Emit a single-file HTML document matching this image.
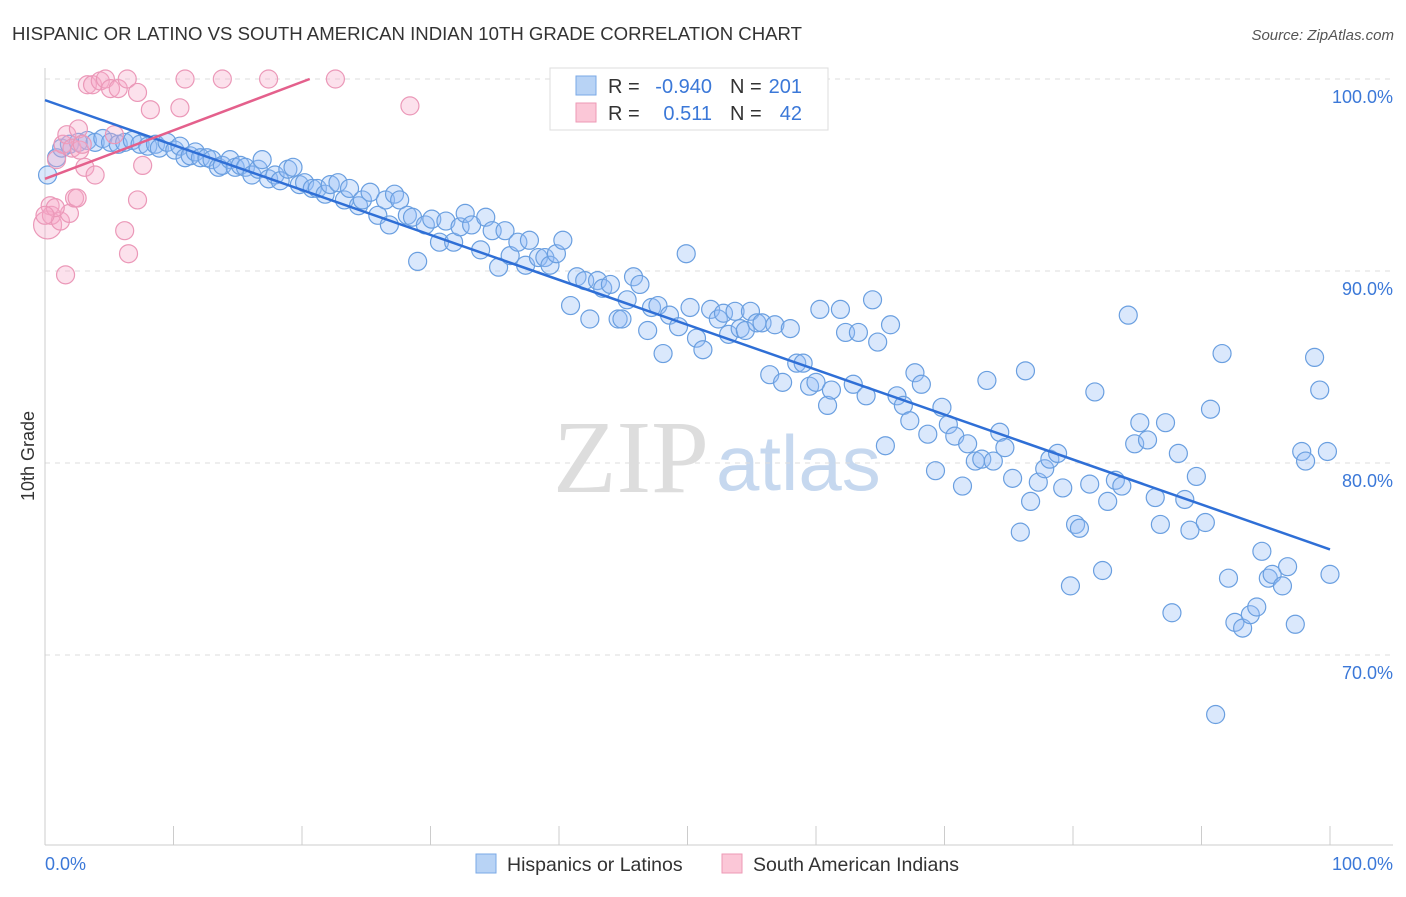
<!DOCTYPE html>
<html><head><meta charset="utf-8"><style>
body{margin:0;background:#fff;font-family:"Liberation Sans",sans-serif;}
svg text{font-family:"Liberation Sans",sans-serif;}
</style></head><body>
<svg id="chart" width="1406" height="892" viewBox="0 0 1406 892">
<text x="12" y="40" font-size="18.6" fill="#333">HISPANIC OR LATINO VS SOUTH AMERICAN INDIAN 10TH GRADE CORRELATION CHART</text>
<text x="1394" y="40" font-size="15" fill="#555" font-style="italic" text-anchor="end">Source: ZipAtlas.com</text>
<text x="0" y="0" font-size="18" fill="#333" transform="translate(34,456) rotate(-90)" text-anchor="middle">10th Grade</text>
<g>
<text x="553" y="492" font-size="104" fill="#ddd" style="font-family:'Liberation Serif',serif">ZIP</text>
<text x="716" y="490" font-size="78" fill="#c6d8ef">atlas</text>
</g>
<g id="grid"></g>
<g id="axes"></g>
<g id="pts"></g>
<g id="trends"></g>
<g>
<rect x="550" y="68" width="278" height="62" fill="#fff" stroke="#ddd"/>
<rect x="576" y="76" width="20" height="19" fill="#b8d3f5" stroke="#7aa8e6"/>
<rect x="576" y="103" width="20" height="19" fill="#fbc7d7" stroke="#ee9ab6"/>
<text x="608" y="93" font-size="20" fill="#333">R = </text><text x="712" y="93" font-size="20" fill="#3b78d8" text-anchor="end">-0.940</text>
<text x="730" y="93" font-size="20" fill="#333">N = </text><text x="802" y="93" font-size="20" fill="#3b78d8" text-anchor="end">201</text>
<text x="608" y="120" font-size="20" fill="#333">R = </text><text x="712" y="120" font-size="20" fill="#3b78d8" text-anchor="end">0.511</text>
<text x="730" y="120" font-size="20" fill="#333">N = </text><text x="802" y="120" font-size="20" fill="#3b78d8" text-anchor="end">42</text>
</g>
<g>
<rect x="476" y="854" width="20" height="19" fill="#b8d3f5" stroke="#7aa8e6"/>
<text x="507" y="871" font-size="19.5" fill="#333">Hispanics or Latinos</text>
<rect x="722" y="854" width="20" height="19" fill="#fbc7d7" stroke="#ee9ab6"/>
<text x="753" y="871" font-size="19.5" fill="#333">South American Indians</text>
</g>
</svg>
<script>
const blueX=[0.2,0.9,1.3,1.9,2.6,3.3,3.9,4.5,5.1,5.7,6.2,6.8,7.4,8.0,8.6,8.9,9.5,10.1,10.5,10.9,11.3,11.7,12.1,12.6,13.0,13.5,13.8,14.4,14.8,15.2,15.6,16.1,16.6,16.9,17.4,17.9,18.3,18.9,19.3,19.8,20.2,20.8,21.2,21.8,22.2,22.8,23.3,23.7,24.4,24.7,25.3,25.9,26.5,26.8,27.2,27.6,28.2,28.6,29.0,29.6,30.1,30.7,31.2,31.8,32.3,32.7,33.2,33.9,34.3,34.8,35.3,35.8,36.2,36.8,37.4,37.7,38.4,38.9,39.3,39.8,40.3,40.9,41.4,42.0,42.4,43.0,43.4,44.0,44.6,44.9,45.3,45.8,46.3,46.9,47.2,47.7,48.1,48.6,49.3,49.9,50.2,50.7,51.2,51.8,52.4,52.8,53.2,53.7,54.1,54.5,54.9,55.4,55.8,56.4,56.8,57.4,58.0,58.5,59.0,59.5,60.0,60.3,60.9,61.2,61.9,62.3,62.9,63.3,63.9,64.4,64.8,65.4,65.8,66.3,66.8,67.3,67.7,68.2,68.7,69.3,69.8,70.3,70.8,71.4,71.8,72.4,72.9,73.3,73.8,74.3,74.7,75.3,75.9,76.3,76.7,77.3,77.8,78.2,78.8,79.2,79.8,80.2,80.5,81.3,81.7,82.3,82.7,83.3,83.8,84.3,84.8,85.2,85.8,86.4,86.8,87.2,87.7,88.2,88.7,89.1,89.6,90.3,90.7,91.1,91.6,92.1,92.6,93.2,93.8,94.3,94.7,95.2,95.5,96.3,96.7,97.3,97.8,98.1,98.8,99.2,99.8,100.0];
const blueY=[95.0,95.9,96.4,96.6,96.7,96.8,96.7,96.9,96.7,96.6,96.7,96.8,96.6,96.5,96.6,96.4,96.7,96.3,96.5,95.9,96.0,96.2,95.9,95.9,95.8,95.4,95.5,95.8,95.4,95.5,95.4,95.0,95.3,95.8,94.8,95.0,94.7,95.3,95.4,94.5,94.6,94.3,94.3,94.0,94.5,94.6,93.7,94.3,93.4,93.7,94.1,92.9,93.7,92.4,94.0,93.7,92.9,92.8,90.5,92.4,92.7,91.5,92.6,91.5,92.3,93.0,92.4,91.1,92.8,92.1,90.2,92.1,90.8,91.5,90.3,91.6,90.7,90.7,90.3,90.9,91.6,88.2,89.7,89.5,87.5,89.5,89.1,89.3,87.5,87.5,88.5,89.7,89.3,86.9,88.1,88.2,85.7,87.7,87.1,90.9,88.1,86.5,85.9,88.0,87.5,87.8,86.7,87.9,87.0,86.9,87.9,87.3,87.3,84.6,87.2,84.2,87.0,85.2,85.2,84.0,84.2,88.0,83.0,83.8,88.0,86.8,84.1,86.8,83.5,88.5,86.3,80.9,87.2,83.5,83.0,82.2,84.7,84.1,81.5,79.6,82.9,82.0,81.4,78.8,81.0,80.1,80.2,84.3,80.1,81.6,80.8,79.2,76.4,84.8,78.0,79.0,79.7,80.2,80.5,78.7,73.6,76.8,76.6,78.9,83.7,74.4,78.0,79.1,78.8,87.7,81.0,82.1,81.2,78.2,76.8,82.1,72.2,80.5,78.1,76.5,79.3,76.9,82.8,66.9,85.7,74.0,71.7,71.4,72.1,72.5,75.4,74.0,74.2,73.6,74.6,71.6,80.6,80.1,85.5,83.8,80.6,74.2];
const pinkX=[0.2,0.4,0.5,0.9,1.2,1.4,1.6,1.7,1.9,2.1,2.3,2.5,2.6,2.7,3.1,3.3,3.7,3.9,4.3,4.7,5.1,5.4,5.7,6.2,6.4,6.5,7.2,7.2,7.6,8.2,10.5,10.9,13.8,17.4,22.6,28.4,0.8,2.9,0.0];
const pinkY=[92.4,93.4,92.9,95.8,92.6,96.6,89.8,97.1,93.0,96.4,93.8,93.8,97.4,96.3,95.4,99.7,99.7,95.0,99.9,100.0,99.5,97.1,99.5,92.1,100.0,90.9,93.7,99.3,95.5,98.4,98.5,100.0,100.0,100.0,100.0,98.6,93.3,96.6,92.9];
const blueTrend=[[0,98.9],[100,75.5]];
const pinkTrend=[[0,94.8],[20.6,100]];
const yTicks=[100,90,80,70];
const xTicks=[0,10,20,30,40,50,60,70,80,90,100];

const X=v=>45+v*12.85, Y=v=>79+(100-v)*19.2;
const NS='http://www.w3.org/2000/svg';
function mk(tag,attrs,parent){const e=document.createElementNS(NS,tag);for(const k in attrs)e.setAttribute(k,attrs[k]);document.getElementById(parent).appendChild(e);return e;}
yTicks.forEach(t=>{
 const l=mk('line',{x1:45,x2:1393,y1:Y(t),y2:Y(t),stroke:'#ddd','stroke-dasharray':'5,5'},'grid');
 
 
 const tx=mk('text',{x:1393,y:Y(t)+24,'font-size':18,fill:'#3b78d8','text-anchor':'end'},'axes');
 tx.textContent=t.toFixed(1)+'%';
 
 
});
const ax=mk('line',{x1:45,x2:1393,y1:845,y2:845,stroke:'#ccc'},'axes');


const ay=mk('line',{x1:45,x2:45,y1:68,y2:845,stroke:'#ccc'},'axes');


xTicks.forEach(t=>{
 const l=mk('line',{x1:X(t),x2:X(t),y1:826,y2:845,stroke:'#ccc'},'axes');
 
 
});
[[0,'start'],[100,'end']].forEach(([t,a])=>{
 const tx=mk('text',{x:t==0?45:1393,y:870,'font-size':18,fill:'#3b78d8','text-anchor':a},'axes');
 tx.textContent=t.toFixed(1)+'%';
 
 
});
blueX.forEach((x,i)=>{
 const c=mk('circle',{cx:X(x),cy:Y(blueY[i]),r:9,fill:'rgba(150,190,245,0.35)',stroke:'#6a9fe0','stroke-width':1.2},'pts');
 
 
});
pinkX.forEach((x,i)=>{
 const c=mk('circle',{cx:X(x),cy:Y(pinkY[i]),r:i==0?14:9,fill:'rgba(245,170,200,0.35)',stroke:'#eb98b8','stroke-width':1.2},'pts');
 
 
});
const bt=mk('line',{x1:X(blueTrend[0][0]),y1:Y(blueTrend[0][1]),x2:X(blueTrend[1][0]),y2:Y(blueTrend[1][1]),stroke:'#2f6fd6','stroke-width':2.5},'trends');


const pt=mk('line',{x1:X(pinkTrend[0][0]),y1:Y(pinkTrend[0][1]),x2:X(pinkTrend[1][0]),y2:Y(pinkTrend[1][1]),stroke:'#e4608c','stroke-width':2.5},'trends');


</script>
</body></html>
